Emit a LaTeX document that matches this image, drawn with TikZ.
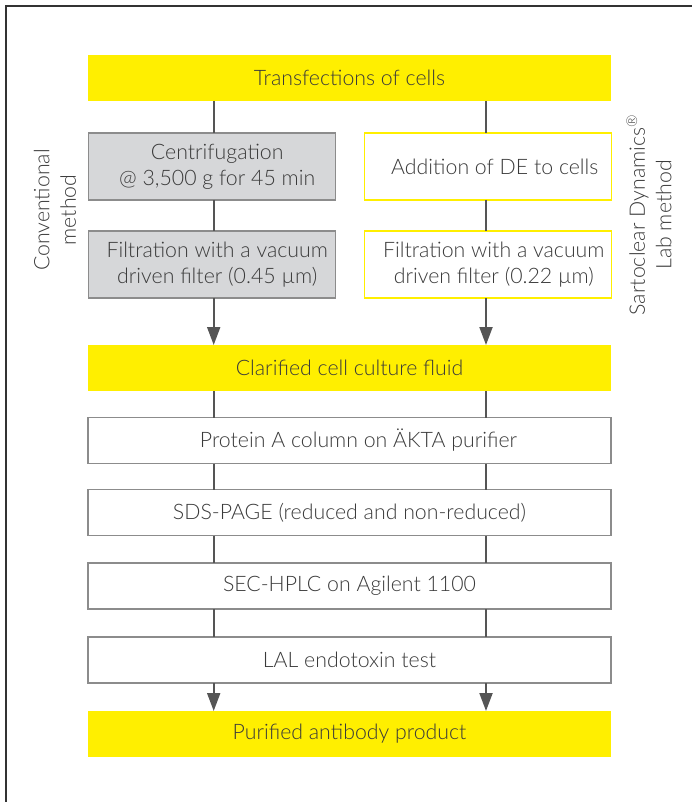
\documentclass[tikz,border=0pt]{standalone}
\usepackage{fontspec}
\IfFontExistsTF{Lato Light}{\setmainfont{Lato Light}}{\setmainfont{Lato}}
\usetikzlibrary{arrows.meta}
\definecolor{syellow}{HTML}{FFEF00}
\definecolor{sgray}{HTML}{D6D7D9}
\definecolor{sborder}{HTML}{8C8C8C}
\definecolor{stext}{HTML}{3A3A3A}
\definecolor{sline}{HTML}{555555}
\definecolor{sframe}{HTML}{333333}
\tikzset{
  base/.style={minimum height=46pt, inner sep=0pt, outer sep=0pt, align=center,
    text=stext, font=\fontsize{21.3}{26}\selectfont},
  wide/.style={base, minimum width=523pt},
  yellowbox/.style={wide, fill=syellow},
  whitebox/.style={wide, draw=sborder, line width=1.2pt, fill=white},
  graybox/.style={base, minimum width=247pt, minimum height=67pt, fill=sgray, draw=sborder, line width=1.2pt},
  ybordbox/.style={base, minimum width=247pt, minimum height=67pt, fill=white, draw=syellow, line width=1.2pt},
  conn/.style={draw=sline, line width=2pt},
  arr/.style={conn, -{Triangle[length=18pt,width=13pt]}},
  sidelabel/.style={rotate=90, align=center, text=stext, font=\fontsize{21.3}{26.5}\selectfont}
}
\begin{document}
\begin{tikzpicture}[x=1pt,y=-1pt]
\useasboundingbox (0,0) rectangle (692,802);
\draw[sframe, line width=1.5pt] (6,802) -- (6,6) -- (692,6);
\coordinate (xl) at (213.7,0);
\coordinate (xr) at (486,0);
\node[yellowbox] (T) at (349.5,78) {Transfections of cells};
\node[graybox] (C1) at (212.2,166.5) {\hspace*{10pt}Centrifugation\\\hspace*{10pt}@ 3,500 g for 45 min};
\node[graybox] (F1) at (212.2,264.5) {\hspace*{10pt}Filtration with a vacuum\\\hspace*{10pt}driven filter (0.45 µm)};
\node[ybordbox] (D) at (487.8,166.5) {\hspace*{14pt}Addition of DE to cells};
\node[ybordbox] (F2) at (487.8,264.5) {\hspace*{12pt}Filtration with a vacuum\\\hspace*{12pt}driven filter (0.22 µm)};
\node[yellowbox] (CL) at (349.5,368) {Clarified cell culture fluid};
\node[whitebox] (P) at (349.5,440.5) {\hspace*{18pt}Protein A column on ÄKTA purifier};
\node[whitebox] (S) at (349.5,512.5) {SDS-PAGE (reduced and non-reduced)};
\node[whitebox] (H) at (349.5,586) {SEC-HPLC on Agilent 1100};
\node[whitebox] (L) at (349.5,660) {LAL endotoxin test};
\node[yellowbox] (PA) at (349.5,734) {Purified antibody product};
\node[sidelabel] (lm) at (55,210) {Conventional\\method};
\node[sidelabel] (rm) at (649,215) {Sartoclear Dynamics\textsuperscript{®}\\Lab method};
% left column
\draw[conn] (T.south -| xl) -- (C1.north -| xl);
\draw[conn] (C1.south -| xl) -- (F1.north -| xl);
\draw[arr] (F1.south -| xl) -- (CL.north -| xl);
% right column
\draw[conn] (T.south -| xr) -- (D.north -| xr);
\draw[conn] (D.south -| xr) -- (F2.north -| xr);
\draw[arr] (F2.south -| xr) -- (CL.north -| xr);
% shared
\foreach \a/\b in {CL/P,P/S,S/H,H/L}{
  \draw[conn] (\a.south -| xl) -- (\b.north -| xl);
  \draw[conn] (\a.south -| xr) -- (\b.north -| xr);
}
\draw[arr] (L.south -| xl) -- (PA.north -| xl);
\draw[arr] (L.south -| xr) -- (PA.north -| xr);
\end{tikzpicture}
\end{document}
